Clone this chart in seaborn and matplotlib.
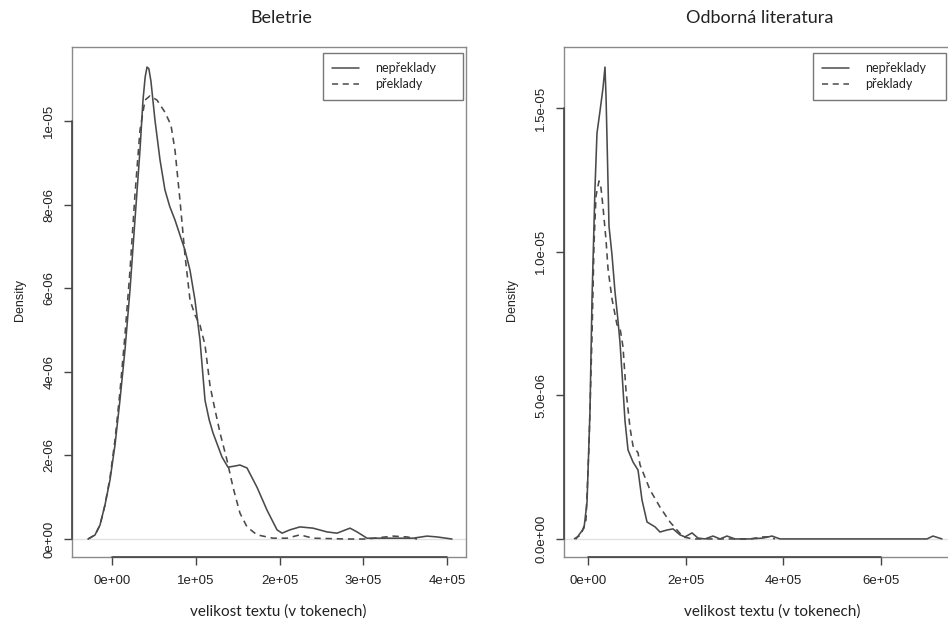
import numpy as np
import pandas as pd
import matplotlib
matplotlib.use("Agg")
import matplotlib.pyplot as plt
from matplotlib.lines import Line2D
import seaborn as sns

# ---------------- data ----------------
titles = ["Beletrie", "Odborná literatura"]
series_labels = ["nepřeklady", "překlady"]
x_label = "velikost textu (v tokenech)"
y_label = "Density"

# Beletrie — x in tokens, y density
bel_non_x = np.array([-28.6, -20.3, -14.3, -8.4, -2.4, 3.6, 9.5, 15.5, 21.5, 27.4, 33.4, 37.0, 39.6,
                      41.8, 44.0, 46.5, 51.3, 57.3, 63.2, 69.0, 75.2, 87.1, 93.1, 99.0, 105.0, 111.0,
                      116.0, 120.5, 131.3, 138.4, 145.0, 152.7, 161.1, 173.0, 185.0, 196.9, 202.9,
                      212.4, 224.3, 239.9, 256.6, 268.5, 284.0, 292.4, 304.3, 319.8, 359.2, 375.9,
                      387.8, 405.7]) * 1e3
bel_non_y = np.array([0.0, 0.096, 0.335, 0.81, 1.41, 2.25, 3.32, 4.52, 5.96, 7.63, 9.30, 10.50, 11.05,
                      11.29, 11.25, 10.95, 10.02, 9.07, 8.35, 7.95, 7.63, 6.91, 6.43, 5.72, 4.76, 3.32,
                      2.85, 2.54, 1.96, 1.72, 1.74, 1.77, 1.70, 1.24, 0.69, 0.22, 0.14,
                      0.22, 0.29, 0.26, 0.17, 0.14, 0.26, 0.17, 0.02, 0.02, 0.02, 0.07,
                      0.05, 0.0]) * 1e-6

bel_tr_x = np.array([-28.6, -20.3, -14.3, -8.4, -2.4, 3.6, 9.5, 15.5, 21.5, 27.4, 33.4, 39.4, 45.3,
                     53.7, 63.2, 70.4, 75.2, 81.1, 87.1, 93.1, 99.0, 105.0, 111.0, 116.9, 120.5,
                     128.9, 137.2, 144.4, 152.7, 161.1, 173.0, 192.1, 208.8, 224.3, 239.9, 280.4,
                     304.3, 335.3, 352.0, 364.0]) * 1e3
bel_tr_y = np.array([0.0, 0.096, 0.33, 0.81, 1.46, 2.37, 3.52, 4.88, 6.43, 8.23, 9.78, 10.50, 10.60,
                     10.50, 10.21, 9.90, 9.30, 8.11, 6.79, 5.72, 5.36, 5.12, 4.64, 3.68, 3.32,
                     2.54, 1.89, 1.24, 0.62, 0.29, 0.10, 0.02, 0.02, 0.10, 0.02, 0.0,
                     0.0, 0.07, 0.05, 0.0]) * 1e-6

# Odborná literatura
odb_non_x = np.array([-24.6, -8.2, -2.0, 4.1, 8.2, 14.3, 18.4, 24.6, 30.7, 34.8, 36.9, 39.0, 41.0, 43.0,
                      49.2, 55.3, 61.5, 65.6, 69.7, 75.8, 82.0, 92.2, 102.5, 110.6, 120.9, 137.3,
                      147.5, 161.9, 174.2, 188.5, 198.8, 213.1, 225.4, 239.7, 256.1, 270.5, 284.8,
                      301.2, 331.9, 358.6, 377.0, 393.4, 694.6, 706.9, 725.3]) * 1e3
odb_non_y = np.array([0.0, 0.38, 1.29, 4.49, 8.36, 12.23, 14.14, 14.91, 15.71, 16.44, 15.43, 13.9, 12.4, 10.9,
                      9.89, 8.61, 7.60, 6.83, 5.78, 4.11, 3.10, 2.68, 2.40, 1.36, 0.59, 0.42,
                      0.24, 0.31, 0.35, 0.14, 0.07, 0.21, 0.03, 0.0, 0.10, 0.0, 0.10,
                      0.0, 0.0, 0.03, 0.10, 0.0, 0.0, 0.10, 0.0]) * 1e-6

odb_tr_x = np.array([-28.7, -14.3, -4.1, 2.0, 8.2, 12.3, 16.4, 22.5, 26.6, 30.7, 36.9, 41.0, 49.2,
                     59.4, 65.6, 71.7, 77.9, 86.1, 92.2, 102.5, 106.6, 127.0, 147.5, 168.0, 182.4,
                     194.7, 215.1, 276.6, 305.3, 331.9, 358.6, 368.8, 383.2]) * 1e3
odb_tr_y = np.array([0.0, 0.14, 0.66, 3.24, 7.07, 10.28, 11.95, 12.47, 12.23, 11.57, 10.42, 9.41, 8.36,
                     7.46, 7.35, 6.69, 5.16, 3.87, 3.24, 3.00, 2.58, 1.71, 1.11, 0.59, 0.31,
                     0.07, 0.0, 0.0, 0.0, 0.0, 0.07, 0.07, 0.0]) * 1e-6

bel_xticks = [0, 1e5, 2e5, 3e5, 4e5]
bel_xticklabels = ["0e+00", "1e+05", "2e+05", "3e+05", "4e+05"]
bel_yticks = [0, 2e-6, 4e-6, 6e-6, 8e-6, 1e-5]
bel_yticklabels = ["0e+00", "2e-06", "4e-06", "6e-06", "8e-06", "1e-05"]
odb_xticks = [0, 2e5, 4e5, 6e5]
odb_xticklabels = ["0e+00", "2e+05", "4e+05", "6e+05"]
odb_yticks = [0, 5e-6, 1e-5, 1.5e-5]
odb_yticklabels = ["0.0e+00", "5.0e-06", "1.0e-05", "1.5e-05"]

# ---------------- styling ----------------
sns.set_theme(style="white")
plt.rcParams["font.family"] = ["Liberation Sans", "DejaVu Sans"]
HUM = ["Lato", "DejaVu Sans"]
SANS = ["Liberation Sans", "DejaVu Sans"]
CURVE = "#4a4a4a"
DASH = (0, (4, 3))

W, H = 948, 623
fig = plt.figure(figsize=(W / 100, H / 100), dpi=100)

def axpos(l, r, t, b):
    return [l / W, (H - b) / H, (r - l) / W, (b - t) / H]

panels = [
    dict(l=72, r=466, pos=axpos(72, 466, 47, 557), title=titles[0],
         data=[(bel_non_x, bel_non_y, "-"), (bel_tr_x, bel_tr_y, DASH)],
         xlim=(-47.7e3, 422.4e3), ylim=(-0.43e-6, 11.77e-6),
         xt=bel_xticks, xtl=bel_xticklabels, yt=bel_yticks, ytl=bel_yticklabels,
         title_cx=281, xlab_cx=278, ylab_x=20, leg=(323, 463)),
    dict(l=564, r=950, pos=axpos(564, 950, 47, 557), title=titles[1],
         data=[(odb_non_x, odb_non_y, "-"), (odb_tr_x, odb_tr_y, DASH)],
         xlim=(-49.2e3, 741.8e3), ylim=(-0.63e-6, 17.14e-6),
         xt=odb_xticks, xtl=odb_xticklabels, yt=odb_yticks, ytl=odb_yticklabels,
         title_cx=760, xlab_cx=772, ylab_x=512, leg=(813, 946)),
]

for p in panels:
    ax = fig.add_axes(p["pos"])
    aw = p["r"] - p["l"]
    ax.axhline(0, color="#e2e2e2", lw=1.0, zorder=1)
    for (x, y, ls) in p["data"]:
        df = pd.DataFrame({"x": x, "y": y})
        sns.lineplot(data=df, x="x", y="y", ax=ax, color=CURVE, lw=1.15,
                     linestyle=ls, sort=False, estimator=None, zorder=3)
    ax.set_xlim(*p["xlim"])
    ax.set_ylim(*p["ylim"])
    ax.set_xticks(p["xt"])
    ax.set_xticklabels(p["xtl"], fontsize=9.5, family=SANS)
    ax.set_yticks(p["yt"])
    ax.set_yticklabels(p["ytl"], fontsize=9.5, rotation=90, va="center", family=SANS)
    for s in ax.spines.values():
        s.set_color("#8a8a8a")
        s.set_linewidth(1.0)
    ax.tick_params(axis="both", which="major", direction="out", length=6,
                   width=1.0, color="#444444", labelcolor="#222222",
                   bottom=True, left=True)
    ax.tick_params(axis="x", pad=7)
    ax.tick_params(axis="y", pad=6)
    # axis lines spanning the tick range (as R draws them)
    ax.plot([p["xt"][0], p["xt"][-1]], [0, 0], transform=ax.get_xaxis_transform(),
            color="#444444", lw=1.2, clip_on=False, zorder=5)
    ax.plot([0, 0], [p["yt"][0], p["yt"][-1]], transform=ax.get_yaxis_transform(),
            color="#444444", lw=1.2, clip_on=False, zorder=5)
    ax.set_xlabel("")
    ax.set_ylabel("")
    # texts placed at reference positions
    fig.text(p["xlab_cx"] / W, 1 - 612 / H, x_label, fontsize=11, family=HUM,
             color="#222222", ha="center", va="center")
    fig.text(p["ylab_x"] / W, 1 - 300 / H, y_label, fontsize=9, family=SANS,
             color="#222222", ha="center", va="center", rotation=90)
    fig.text(p["title_cx"] / W, 1 - 18 / H, p["title"], fontsize=13, family=HUM,
             color="#222222", ha="center", va="center")
    handles = [Line2D([], [], color=CURVE, lw=1.1, linestyle="-"),
               Line2D([], [], color=CURVE, lw=1.1, linestyle=DASH)]
    lx0 = (p["leg"][0] - p["l"]) / aw
    lx1 = (p["leg"][1] - p["l"]) / aw
    ly1 = (557 - 53) / 510
    ly0 = (557 - 100) / 510
    leg = ax.legend(handles, series_labels, loc="upper left",
                    bbox_to_anchor=(lx0, ly0, lx1 - lx0, ly1 - ly0), mode="expand",
                    frameon=True, fancybox=False, prop={"family": HUM, "size": 9},
                    borderaxespad=0.0, handlelength=2.1, handletextpad=1.35,
                    labelspacing=0.3, borderpad=0.75, edgecolor="#555555")
    leg.get_frame().set_linewidth(1.0)
    for t in leg.get_texts():
        t.set_color("#222222")

fig.savefig("out.png", dpi=100)
